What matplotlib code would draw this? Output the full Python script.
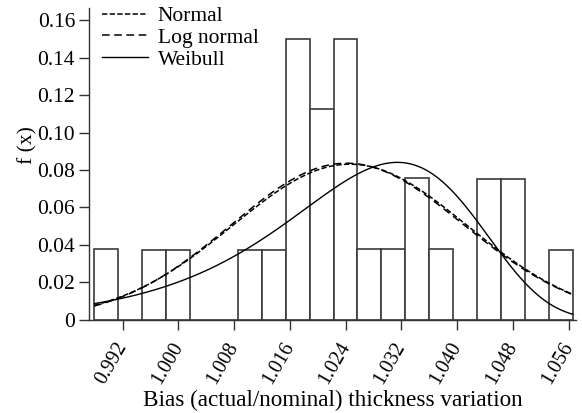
import numpy as np
import matplotlib.pyplot as plt
import matplotlib.transforms as mtransforms

# histogram (relative frequency per bin)
bin_lo = 0.9879
bin_w = 0.003435
heights = [0.038, 0, 0.0372, 0.0372, 0, 0, 0.0374, 0.0374, 0.150, 0.1125,
           0.150, 0.038, 0.038, 0.0756, 0.038, 0, 0.075, 0.075, 0, 0.0375]

# fitted distributions
norm_mu, norm_sd, norm_k = 1.0246, 0.0168, 0.00350
logn_mu, logn_sd, logn_k = 0.0241, 0.0163, 0.00350
weib_shape, weib_scale, weib_k = 76.0, 1.0316, 0.003102

xticks = [0.992, 1.000, 1.008, 1.016, 1.024, 1.032, 1.040, 1.048, 1.056]
yticks = [0, 0.02, 0.04, 0.06, 0.08, 0.10, 0.12, 0.14, 0.16]

plt.rcParams['font.family'] = ['Liberation Serif', 'DejaVu Serif']
plt.rcParams['font.size'] = 15.5

fig = plt.figure(figsize=(5.82, 4.13), dpi=100)
ax = fig.add_axes([0.1529, 0.2259, 0.8368, 0.754])

left = bin_lo + bin_w * np.arange(len(heights))
ax.bar(left, heights, width=bin_w, align='edge', color='white',
       edgecolor='#3a3a3a', linewidth=1.2, zorder=1)

x = np.linspace(bin_lo, bin_lo + bin_w * len(heights), 400)
f_norm = norm_k / (norm_sd * np.sqrt(2 * np.pi)) * np.exp(-(x - norm_mu) ** 2 / (2 * norm_sd ** 2))
f_logn = logn_k / (x * logn_sd * np.sqrt(2 * np.pi)) * np.exp(-(np.log(x) - logn_mu) ** 2 / (2 * logn_sd ** 2))
z = x / weib_scale
f_weib = weib_k * weib_shape / weib_scale * z ** (weib_shape - 1) * np.exp(-z ** weib_shape)

ax.plot(x, f_norm, color='black', lw=1.1, dashes=(3.5, 1.5), label='Normal', zorder=3)
ax.plot(x, f_logn, color='black', lw=1.1, dashes=(5, 3), label='Log normal', zorder=3)
ax.plot(x, f_weib, color='black', lw=1.0, label='Weibull', zorder=3)

ax.set_xlim(0.98716, 1.05705)
ax.set_ylim(0, 0.1664)
ax.set_xticks(xticks)
ax.set_xticklabels(['%.3f' % v for v in xticks], rotation=60, ha='right', va='center',
                   rotation_mode='anchor', fontsize=14.5)
shift = mtransforms.ScaledTranslation(3 / 100, 0, fig.dpi_scale_trans)
for lab in ax.get_xticklabels():
    lab.set_transform(lab.get_transform() + shift)
ax.set_yticks(yticks)
ax.set_yticklabels(['0'] + ['%.2f' % v for v in yticks[1:]])
ax.tick_params(direction='out', length=7, width=1.0, color='#333333', pad=3)
ax.tick_params(axis='x', pad=10)

for s in ['top', 'right']:
    ax.spines[s].set_visible(False)
for s in ['left', 'bottom']:
    ax.spines[s].set_color('#333333')
    ax.spines[s].set_linewidth(1.0)

ax.set_xlabel('Bias (actual/nominal) thickness variation', fontsize=16.7, labelpad=2)
ax.set_ylabel('f (x)')
ax.yaxis.set_label_coords(-0.105, 0.561)

ax.legend(loc='upper left', bbox_to_anchor=(0.026, 1.007), frameon=False,
          handlelength=2.15, handletextpad=0.45, labelspacing=0.08, borderpad=0,
          borderaxespad=0)

fig.savefig('out.png', dpi=100)
